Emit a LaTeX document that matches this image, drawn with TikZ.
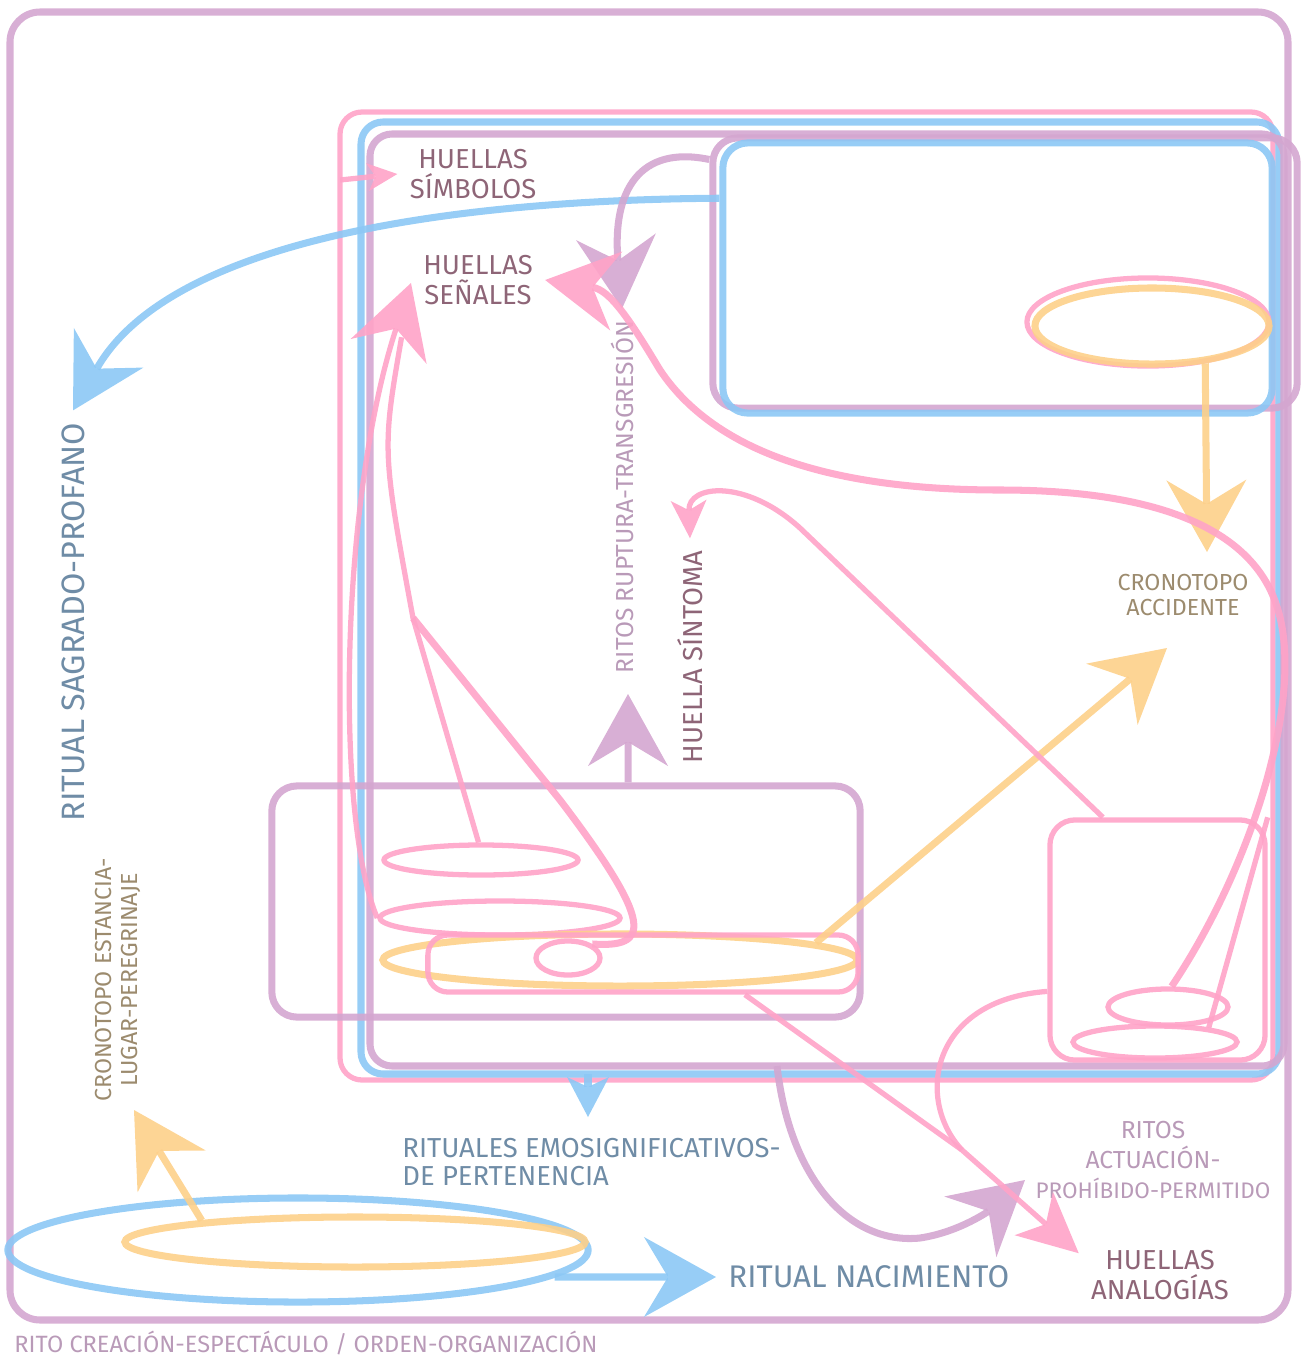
\documentclass[tikz,border=0pt]{standalone}
\usepackage{fontspec}
\setmainfont{Fira Sans}
\usetikzlibrary{arrows.meta,shapes.geometric}
\definecolor{lila}{HTML}{D4A6D0}
\definecolor{cielo}{HTML}{8CC8F5}
\definecolor{rosa}{HTML}{FFA3C8}
\definecolor{miel}{HTML}{FDD08A}
\definecolor{malva}{HTML}{8E6577}
\definecolor{pizarra}{HTML}{6F8CA6}
\definecolor{arena}{HTML}{9C8B6E}
\definecolor{lilaosc}{HTML}{B99AB8}

\begin{document}
\begin{tikzpicture}[x=0.01cm,y=-0.01cm,
  trazolila/.style={draw=lila,line width=2pt,opacity=.9},
  trazocielo/.style={draw=cielo,line width=2pt,opacity=.9},
  trazorosa/.style={draw=rosa,line width=1.5pt,opacity=.9},
  trazomiel/.style={draw=miel,line width=2pt,opacity=.9},
  ovalo/.style={ellipse,inner sep=0pt},
  caja/.style={rectangle,inner sep=0pt,rounded corners=0.25cm},
  huella/.style={text=malva,align=center,font=\fontsize{7.8}{8.4}\selectfont},
  ritual/.style={text=pizarra,align=left,font=\fontsize{7.8}{8}\selectfont},
  crono/.style={text=arena,align=center,font=\fontsize{6.6}{7.2}\selectfont},
  rito/.style={text=lilaosc,align=center,font=\fontsize{7}{8.5}\selectfont},
  puntaG/.style={-{Stealth[length=0.72cm,width=0.8cm,inset=0.24cm,line width=0pt]}}
]
  \useasboundingbox (0,0) rectangle (1302,1360);
  \draw[trazolila,rounded corners=0.3cm] (10,12) rectangle (1288,1320);
  \draw[trazorosa,rounded corners=0.22cm] (340,112) rectangle (1273,1080);
  \draw[trazocielo,rounded corners=0.22cm] (361,122) rectangle (1279,1074);
  \draw[trazolila,rounded corners=0.22cm] (370,134) rectangle (1284,1066);
  \node[trazolila,caja,minimum width=5.84cm,minimum height=2.70cm] (marcoLila) at (1005,273) {};
  \node[trazocielo,caja,minimum width=5.49cm,minimum height=2.70cm] (marcoCielo) at (997.5,278) {};
  \node[trazorosa,ovalo,minimum width=2.42cm,minimum height=0.88cm] (ovAccRosa) at (1148,322) {};
  \node[trazomiel,ovalo,minimum width=2.34cm,minimum height=0.76cm] (ovAccMiel) at (1152,326) {};

  \node[trazolila,caja,minimum width=5.88cm,minimum height=2.31cm] (cajaRitos) at (566,901.5) {};
  \node[trazorosa,ovalo,minimum width=1.94cm,minimum height=0.30cm] (ovSup) at (481,860) {};
  \node[trazorosa,ovalo,minimum width=2.40cm,minimum height=0.34cm] (ovMed) at (500,918) {};
  \node[trazomiel,ovalo,minimum width=4.74cm,minimum height=0.52cm] (ovMiel) at (620,960) {};
  \node[trazorosa,caja,rounded corners=0.2cm,minimum width=4.30cm,minimum height=0.57cm] (cajaRosa) at (643,963.5) {};
  \node[trazorosa,ovalo,minimum width=0.64cm,minimum height=0.34cm] (ovChico) at (568,958) {};

  \node[trazorosa,caja,minimum width=2.15cm,minimum height=2.40cm] (cajita) at (1157.5,940) {};
  \node[trazorosa,ovalo,minimum width=1.20cm,minimum height=0.36cm] (ovAlto) at (1168,1007) {};
  \node[trazorosa,ovalo,minimum width=1.64cm,minimum height=0.32cm] (ovBajo) at (1155,1042) {};

  \node[trazocielo,ovalo,minimum width=5.80cm,minimum height=1.04cm] (ovCielo) at (298,1250) {};
  \node[trazomiel,ovalo,minimum width=4.60cm,minimum height=0.50cm] (ovLugar) at (355,1242) {};

  \node[huella] (simbolos) at (473,174) {HUELLAS\\SÍMBOLOS};
  \node[huella] (senales) at (478,280) {HUELLAS\\SEÑALES};
  \node[huella,rotate=90] (sintoma) at (690,657) {HUELLA SÍNTOMA};
  \node[huella] (analogias) at (1160,1275) {HUELLAS\\ANALOGÍAS};
  \node[rito,rotate=90] (ruptura) at (622,497) {RITOS RUPTURA-TRANSGRESIÓN};
  \node[rito] (actuacion) at (1153,1160) {RITOS\\ACTUACIÓN-\\{\fontsize{6.4}{8.5}\selectfont PROHÍBIDO-PERMITIDO}};
  \node[rito,anchor=west,font=\fontsize{6.7}{8}\selectfont] (creacion) at (2,1343) {RITO CREACIÓN-ESPECTÁCULO / ORDEN-ORGANIZACIÓN};
  \node[ritual,rotate=90,font=\fontsize{9.2}{10}\selectfont] (sagrado) at (73,622) {RITUAL SAGRADO-PROFANO};
  \node[ritual,anchor=north west] (pertenencia) at (390,1126) {RITUALES EMOSIGNIFICATIVOS-\\DE PERTENENCIA};
  \node[ritual,anchor=west,font=\fontsize{8.9}{10}\selectfont] (nacimiento) at (716,1277) {RITUAL NACIMIENTO};
  \node[crono] (accidente) at (1183,595) {CRONOTOPO\\ACCIDENTE};
  \node[crono,rotate=90] (estancia) at (118,980) {CRONOTOPO ESTANCIA-\\LUGAR-PEREGRINAJE};

  \coordinate (pCae) at (1207,552);
  \coordinate (pSube) at (1167,648);
  \coordinate (pLugar) at (134,1110);
  \coordinate (pAbajo) at (588,1074);
  \coordinate (pPert) at (588,1117);
  \coordinate (pRup) at (628,694);
  \coordinate (pBase) at (777,1066);
  \coordinate (pAct) at (1025,1180);
  \coordinate (pBorde) at (340,180);
  \coordinate (pSen) at (411,283);
  \coordinate (codo) at (413,618);
  \coordinate (pCruce) at (962,1150);

  \draw[trazomiel,puntaG] (ovAccMiel.-35) -- (pCae);
  \draw[trazomiel,puntaG] (ovMiel.5) -- (pSube);
  \draw[trazomiel,puntaG] (ovLugar.172) -- (pLugar);
  \draw[trazocielo,puntaG] (ovCielo.-6) -- (nacimiento.west);
  \draw[trazocielo,puntaG] (marcoCielo.164) .. controls (450,200) and (170,240) .. (sagrado.east);
  \draw[trazocielo,-{Stealth[length=0.4cm,width=0.42cm,inset=0.1cm,line width=0pt]}] (pAbajo) -- (pPert);
  \draw[trazolila,puntaG] (marcoLila.159) .. controls (640,145) and (612,190) .. (ruptura.east);
  \draw[trazolila,puntaG] ([xshift=0.62cm]cajaRitos.north) -- (pRup);
  \draw[trazolila,puntaG] (pBase) .. controls (790,1180) and (850,1245) .. (920,1238) .. controls (960,1232) and (990,1210) .. (pAct);

  \draw[trazorosa,-{Stealth[length=0.3cm,width=0.28cm,inset=0.08cm,line width=0pt]}] (pBorde) -- (simbolos.west);
  \draw[trazorosa,puntaG] (ovMed.west) .. controls (335,820) and (340,500) .. (pSen);
  \draw[trazorosa,shorten >=0.55cm] (ovSup.98) -- (codo) .. controls (382,450) .. (pSen);
  \draw[trazorosa,line width=2pt] (codo) -- (560,800) .. controls (655,925) and (650,948) .. (ovChico.30);
  \draw[trazorosa,line width=2pt,puntaG] (ovAlto.80) .. controls (1250,870) and (1305,700) .. (1278,610) .. controls (1255,530) and (1160,490) .. (1000,490) .. controls (850,490) and (720,460) .. (660,370) .. controls (630,320) and (610,290) .. (senales.east);
  \draw[trazorosa,-{Stealth[length=0.38cm,width=0.36cm,inset=0.1cm,line width=0pt]}] (cajita.114) -- (800,528) .. controls (745,478) and (688,485) .. (sintoma.east);
  \draw[trazorosa] (cajita.205) .. controls (930,1000) and (915,1100) .. (pCruce);
  \draw[trazorosa,-{Stealth[length=0.6cm,width=0.58cm,inset=0.16cm,line width=0pt]}] (cajaRosa.-17) -- (pCruce) -- (analogias.165);
  \draw[trazorosa] (ovBajo.15) -- (cajita.north east);
\end{tikzpicture}
\end{document}
